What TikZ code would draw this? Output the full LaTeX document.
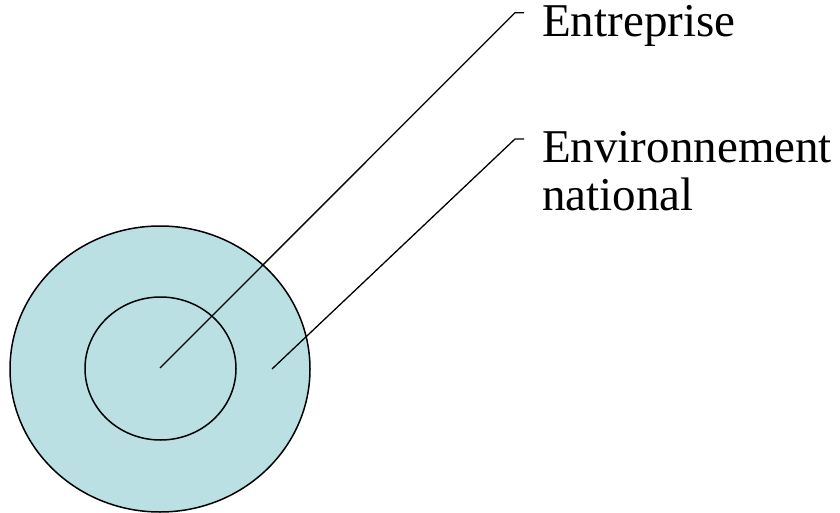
\documentclass[tikz,border=0pt]{standalone}
\usepackage{fontspec}
\setmainfont{Liberation Serif}
\usetikzlibrary{shapes.geometric}
\definecolor{discfill}{RGB}{187,224,227}
\begin{document}
\begin{tikzpicture}[x=1pt,y=-1pt,
  ring/.style={ellipse,draw=black,line width=1.5pt,inner sep=0pt},
  callout/.style={draw=black,line width=1.3pt},
  label/.style={anchor=base west,inner sep=0pt,font=\fontsize{47}{47}\selectfont}]
\useasboundingbox (0,0) rectangle (840,513);
\node[ring,fill=discfill,minimum width=300pt,minimum height=286pt] (outer) at (160,369) {};
\node[ring,minimum width=151pt,minimum height=143pt] (inner) at (160.5,368.5) {};
\coordinate (c1) at (160,368);
\coordinate (c2) at (272,369);
\coordinate (k1) at (515,12.7);
\coordinate (e1) at (524,12.7);
\coordinate (k2) at (515,139);
\coordinate (e2) at (524,139);
\node[label] (t1) at (542,37) {Entreprise};
\node[label] (t2) at (542,163) {Environnement};
\node[label] (t3) at (542,211) {national};
\draw[callout] (c1) -- (k1) -- (e1);
\draw[callout] (c2) -- (k2) -- (e2);
\end{tikzpicture}
\end{document}
